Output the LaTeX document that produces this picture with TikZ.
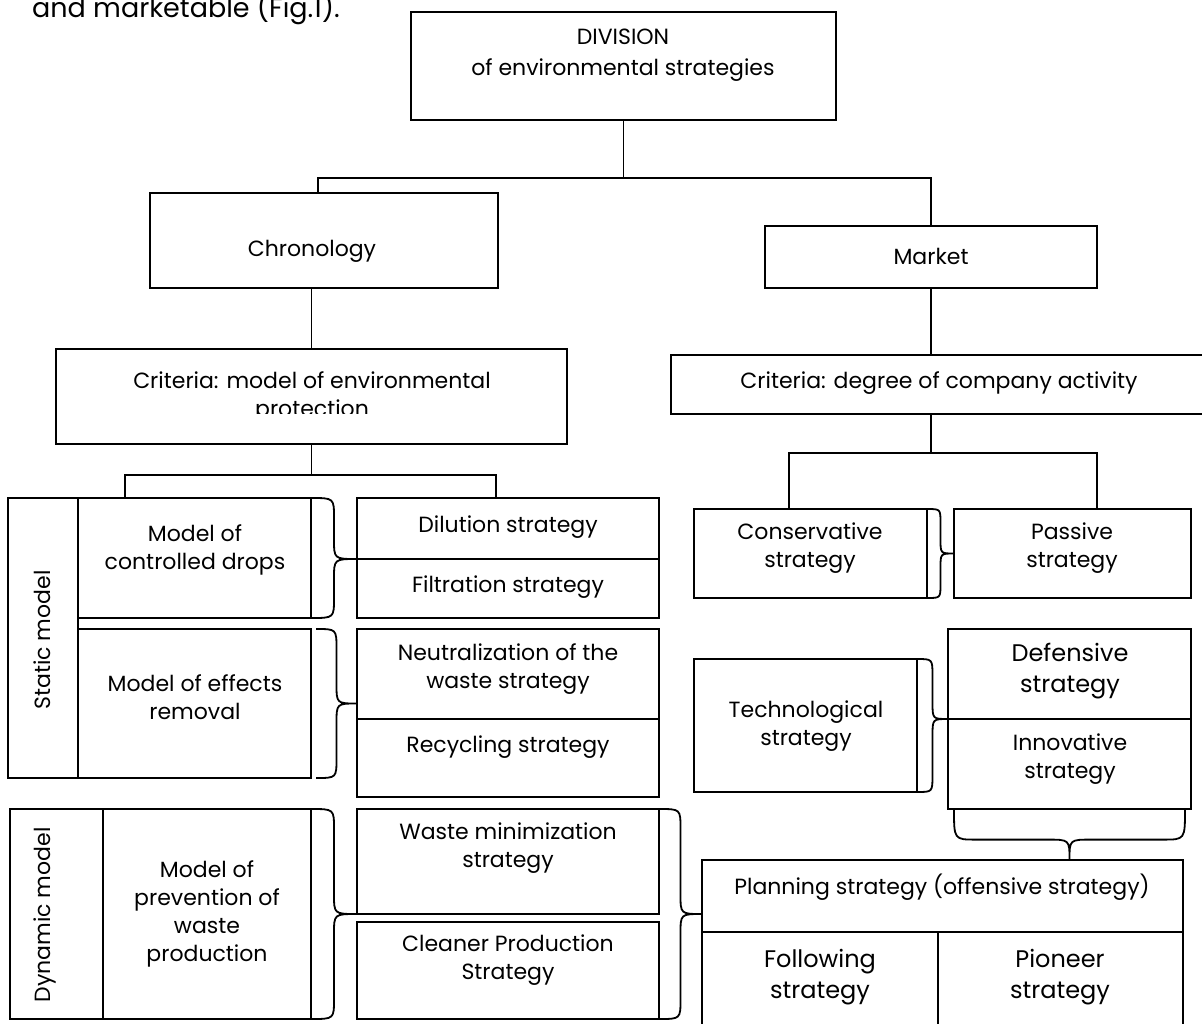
\documentclass[tikz,border=0pt]{standalone}
\usepackage{fontspec}
\setmainfont{Poppins}
\usetikzlibrary{calc}
\newcommand\bx[5]{\node[box, minimum width={#4-#2}, minimum height={#5-#3}] (#1) at ({(#2+#4)/2},{(#3+#5)/2}) {};}
\newcommand\vbr[4]{\draw[br] let \p1=(#1), \p2=(#2), \p3=(#3), \p4=($(\p1)!0.5!(\p2)$) in (\p1) .. controls (\x4,\y1) .. (\x4,\y1-#4) -- (\x4,\y2+#4) .. controls (\x4,\y2) .. (\p2) .. controls (\x4,\y2) .. (\x4,\y2-#4) -- (\x4,\y3+#4) .. controls (\x4,\y3) .. (\p3);}
\newcommand\hbr[4]{\draw[br] let \p1=(#1), \p2=(#2), \p3=(#3), \p4=($(\p1)!0.6!(\p2)$) in (\p1) .. controls (\x1,\y4) .. (\x1+#4,\y4) -- (\x2-#4,\y4) .. controls (\x2,\y4) .. (\p2) .. controls (\x2,\y4) .. (\x2+#4,\y4) -- (\x3-#4,\y4) .. controls (\x3,\y4) .. (\p3);}
\begin{document}
\begin{tikzpicture}[x=1pt,y=-1pt,
  box/.style={draw, line width=1.8pt, inner sep=0pt, outer sep=0pt},
  ln/.style={line width=1.8pt},
  br/.style={line width=1.8pt},
  txt/.style={inner sep=0pt, align=center, font=\fontsize{22}{28}\selectfont},
  big/.style={font=\fontsize{24}{31}\selectfont}]
\useasboundingbox (0,0) rectangle (1202,1023);

% boxes
\bx{div}{411}{12}{836}{120}
\bx{chron}{150}{193}{498}{288}
\bx{market}{765}{226}{1097}{288}
\bx{critL}{56}{349}{567}{444}
\bx{critR}{671}{355}{1215}{414}
\bx{static}{8}{498}{78}{778}
\bx{ctrl}{78}{498}{311}{618}
\bx{effr}{78}{629}{311}{778}
\bx{dil}{357}{498}{659}{559}
\bx{filt}{357}{559}{659}{618}
\bx{neut}{357}{629}{659}{719}
\bx{recy}{357}{719}{659}{797}
\bx{dyn}{10}{809}{103}{1019}
\bx{prev}{103}{809}{311}{1019}
\bx{wastem}{357}{809}{659}{914}
\bx{clean}{357}{922}{659}{1019}
\bx{cons}{694}{509}{927}{598}
\bx{pass}{954}{509}{1191}{598}
\bx{tech}{694}{659}{917}{792}
\bx{def}{948}{629}{1191}{719}
\bx{innov}{948}{719}{1191}{809}
\bx{plan}{702}{860}{1183}{932}
\bx{foll}{702}{932}{938}{1035}
\bx{pion}{938}{932}{1183}{1035}

% connectors
\coordinate (j1) at (623.5,178);
\draw[ln] (div.south) -- (j1);
\draw[ln] ([xshift=-6pt]chron.north) |- (j1) -| (market.north);
\draw[ln] (critL.north) -- (critL.north |- chron.south);
\coordinate (j2) at (311.5,475);
\draw[ln] (critL.south) -- (j2);
\draw[ln] ([xshift=-69.5pt]ctrl.north) |- (j2) -| ([xshift=-12pt]dil.north);
\draw[ln] (market.south) -- (market.south |- critR.north);
\coordinate (j3) at (931,453);
\draw[ln] (critR.south -| j3) -- (j3);
\draw[ln] ([xshift=-21.5pt]cons.north) |- (j3) -| ([xshift=24.5pt]pass.north);

% braces
\vbr{ctrl.north east}{dil.south west}{ctrl.south east}{20pt}
\vbr{[xshift=5pt]effr.north east}{effr.east -| neut.west}{[xshift=5pt]effr.south east}{20pt}
\vbr{prev.north east}{wastem.south west}{prev.south east}{20pt}
\vbr{wastem.north east}{wastem.south -| plan.west}{clean.south east}{20pt}
\vbr{cons.north east}{pass.west}{cons.south east}{14pt}
\vbr{tech.north east}{def.south west}{tech.south east}{17pt}
\hbr{[xshift=6pt]innov.south west}{innov.south |- plan.north}{[xshift=-6pt]innov.south east}{22pt}

% texts
\node[txt, anchor=base west, font=\fontsize{27}{32}\selectfont] (intro) at (32,17) {and marketable (Fig.1).};
\node[txt, font=\fontsize{22}{31}\selectfont] (tdiv) at (623,55) {DIVISION\\of environmental strategies};
\node[txt] (tchron) at (312,251) {Chronology};
\node[txt] (tmarket) at (931,256) {Market};
\begin{scope}
\clip (56,349) rectangle (567,413);
\node[txt, anchor=base] (tcritL) at (312,416) {Criteria: model of environmental\\protection};
\end{scope}
\node[txt] (tcritR) at (939,383) {Criteria: degree of company activity};
\node[txt, rotate=90] (tstatic) at (42,640) {Static model};
\node[txt] (tctrl) at (195,550) {Model of\\controlled drops};
\node[txt] (teffr) at (195,697) {Model of effects\\removal};
\node[txt] (tdil) at (508,527) {Dilution strategy};
\node[txt] (tfilt) at (508,587) {Filtration strategy};
\node[txt] (tneut) at (508,669) {Neutralization of the\\waste strategy};
\node[txt] (trecy) at (508,747) {Recycling strategy};
\node[txt, rotate=90] (tdyn) at (45,915) {Dynamic model};
\node[txt] (tprev) at (207,914) {Model of\\prevention of\\waste\\production};
\node[txt] (twastem) at (508,848) {Waste minimization\\strategy};
\node[txt] (tclean) at (508,960) {Cleaner Production\\Strategy};
\node[txt] (tcons) at (810,548) {Conservative\\strategy};
\node[txt] (tpass) at (1072,548) {Passive\\strategy};
\node[txt] (ttech) at (806,726) {Technological\\strategy};
\node[txt, big] (tdef) at (1070,671) {Defensive\\strategy};
\node[txt] (tinnov) at (1070,759) {Innovative\\strategy};
\node[txt] (tplan) at (942,887) {Planning strategy (offensive strategy)};
\node[txt, big] (tfoll) at (820,977) {Following\\strategy};
\node[txt, big] (tpion) at (1060,977) {Pioneer\\strategy};
\end{tikzpicture}
\end{document}
